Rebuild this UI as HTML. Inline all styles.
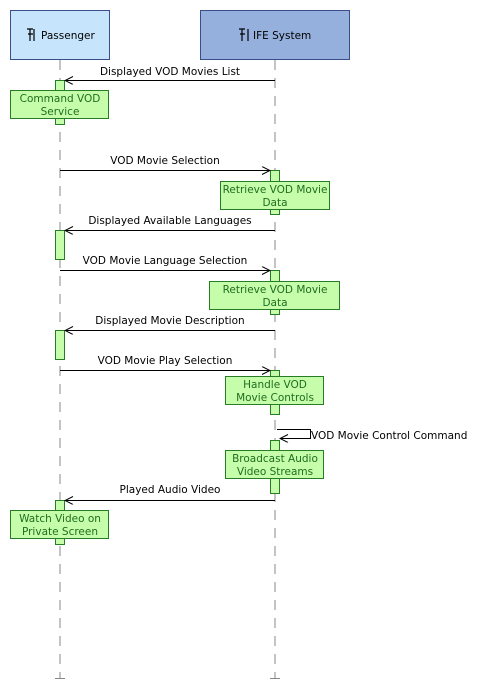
<!DOCTYPE html>
<html><head><style>body{margin:0;background:#fff}svg{display:block}text{font-family:"DejaVu Sans","Liberation Sans",sans-serif;font-size:10.5px}</style></head><body>
<svg width="492" height="695" xmlns="http://www.w3.org/2000/svg">
<defs><marker id="a" markerWidth="10" markerHeight="10" refX="9" refY="4" orient="auto"><path d="M1,0 L9,4 L1,8" fill="none" stroke="#000" stroke-width="1"/></marker></defs>
<g stroke="#888" stroke-dasharray="10,8" stroke-width="1">
<line x1="60" y1="60" x2="60" y2="678"/><line x1="275" y1="60" x2="275" y2="678"/></g>
<line x1="55" y1="678.5" x2="65" y2="678.5" stroke="#888"/><line x1="270" y1="678.5" x2="280" y2="678.5" stroke="#888"/>
<rect x="10.5" y="10.5" width="99" height="49" fill="#c6e4fb" stroke="#3a4f8a"/>
<rect x="200.5" y="10.5" width="149" height="49" fill="#95b0dc" stroke="#3a4f8a"/>
<text x="41" y="39">Passenger</text><text x="253" y="39">IFE System</text>
<g stroke="#000" fill="none" stroke-width="1.2"><path d="M27,29h6M30,29v12M28,34h5M34,29v12"/>
<path d="M239,29h6M242,29v12M240,34h5M248,29v12"/></g>
<g fill="#c6fdaa" stroke="#267d26">
<rect x="55.5" y="80.5" width="9" height="44"/><rect x="270.5" y="170.5" width="9" height="44"/>
<rect x="55.5" y="230.5" width="9" height="29"/><rect x="270.5" y="270.5" width="9" height="44"/>
<rect x="55.5" y="330.5" width="9" height="29"/><rect x="270.5" y="370.5" width="9" height="44"/>
<rect x="270.5" y="440.5" width="9" height="53"/><rect x="55.5" y="500.5" width="9" height="44"/>
<rect x="10.5" y="90.5" width="98" height="28"/><rect x="220.5" y="181.5" width="109" height="28"/>
<rect x="209.5" y="281.5" width="130" height="28"/><rect x="225.5" y="376.5" width="98" height="28"/>
<rect x="225.5" y="450.5" width="98" height="28"/><rect x="10.5" y="510.5" width="98" height="28"/>
</g>
<g fill="#1f6e1f" text-anchor="middle">
<text x="60" y="102">Command VOD</text><text x="60" y="115">Service</text>
<text x="275" y="193">Retrieve VOD Movie</text><text x="275" y="206">Data</text>
<text x="275" y="293">Retrieve VOD Movie</text><text x="275" y="306">Data</text>
<text x="275" y="388">Handle VOD</text><text x="275" y="401">Movie Controls</text>
<text x="275" y="462">Broadcast Audio</text><text x="275" y="475">Video Streams</text>
<text x="60" y="522">Watch Video on</text><text x="60" y="535">Private Screen</text>
</g>
<g stroke="#000" stroke-width="1" marker-end="url(#a)">
<line x1="275" y1="80.5" x2="65" y2="80.5"/><line x1="60" y1="170.5" x2="270" y2="170.5"/>
<line x1="275" y1="230.5" x2="65" y2="230.5"/><line x1="60" y1="270.5" x2="270" y2="270.5"/>
<line x1="275" y1="330.5" x2="65" y2="330.5"/><line x1="60" y1="370.5" x2="270" y2="370.5"/>
<path d="M277,429.5H310.5V438.5H280" fill="none"/>
<line x1="275" y1="500.5" x2="65" y2="500.5"/></g>
<g text-anchor="middle">
<text x="170" y="75">Displayed VOD Movies List</text><text x="165" y="164">VOD Movie Selection</text>
<text x="170" y="224">Displayed Available Languages</text><text x="165" y="264">VOD Movie Language Selection</text>
<text x="170" y="324">Displayed Movie Description</text><text x="165" y="364">VOD Movie Play Selection</text>
<text x="170" y="493">Played Audio Video</text></g>
<text x="311" y="439">VOD Movie Control Command</text>
</svg>
</body></html>
